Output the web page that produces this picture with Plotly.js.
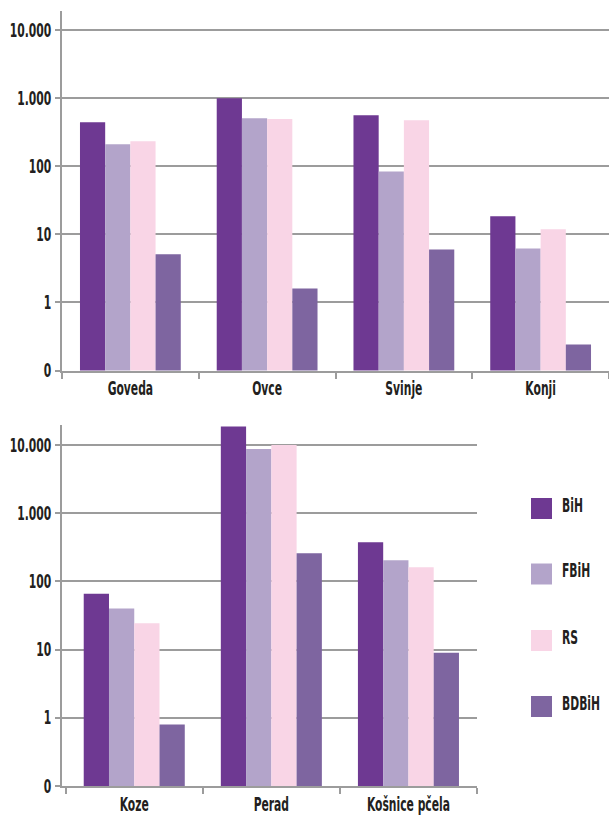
<!DOCTYPE html>
<html>
<head>
<meta charset="utf-8">
<script src="https://cdn.plot.ly/plotly-3.0.1.min.js"></script>
<style>
  html, body { margin: 0; padding: 0; background: #fff; }
  #chart { width: 609px; height: 816px; }
</style>
</head>
<body>
<div id="chart"></div>
<script>
// ---- Data ----
const categoriesTop = ['Goveda', 'Ovce', 'Svinje', 'Konji'];
const categoriesBottom = ['Koze', 'Perad', 'Košnice pčela'];
const seriesNames = ['BiH', 'FBiH', 'RS', 'BDBiH'];

const bihTop   = [444, 1000, 562, 18.4];
const fbihTop  = [211, 508, 84, 6.2];
const rsTop    = [233, 492, 475, 11.9];
const bdbihTop = [5.1, 1.6, 6.0, 0.24];

const bihBottom   = [66, 18600, 375];
const fbihBottom  = [40, 8730, 204];
const rsBottom    = [24.4, 10000, 161];
const bdbihBottom = [0.8, 258, 9.0];

const tickVals = [0.1, 1, 10, 100, 1000, 10000];
const tickText = ['0', '1', '10', '100', '1.000', '10.000'];

// ---- Styling ----
const colors = ['#6e3992', '#b3a4ca', '#f9d5e6', '#7e65a0'];
const FONT = 'DejaVu Sans Condensed, DejaVu Sans, sans-serif';
const FSIZE = 19;
const FWEIGHT = 'bold';
const SQUEEZE = 0.63;   // horizontal condensing of all texts
const TXT = '#231f20';
const GRID = '#9c9c9c';

const topSeries = [bihTop, fbihTop, rsTop, bdbihTop];
const bottomSeries = [bihBottom, fbihBottom, rsBottom, bdbihBottom];

const traces = [];
topSeries.forEach((vals, i) => {
  traces.push({
    type: 'bar', x: categoriesTop, y: vals, name: seriesNames[i],
    marker: { color: colors[i], line: { width: 0 } },
    xaxis: 'x', yaxis: 'y', showlegend: false
  });
});
bottomSeries.forEach((vals, i) => {
  traces.push({
    type: 'bar', x: categoriesBottom, y: vals, name: seriesNames[i],
    marker: { color: colors[i], line: { width: 0 } },
    xaxis: 'x2', yaxis: 'y2', showlegend: false
  });
});

const tickFont = { family: FONT, size: FSIZE, color: TXT, weight: FWEIGHT };

function yAxis(domain, top, anchor) {
  return {
    type: 'log', domain: domain, range: [-1, top], anchor: anchor,
    tickvals: tickVals, ticktext: tickText,
    showgrid: true, gridcolor: GRID, gridwidth: 2,
    showline: true, linecolor: GRID, linewidth: 2,
    ticks: 'outside', ticklen: 5, tickcolor: GRID, tickwidth: 2,
    tickfont: tickFont,
    zeroline: false, fixedrange: true
  };
}
function xAxis(domain, range, anchor) {
  return {
    type: 'category', domain: domain, range: range, anchor: anchor,
    showgrid: false, showline: true, linecolor: GRID, linewidth: 2,
    ticks: 'outside', tickson: 'boundaries', ticklen: 6, tickcolor: GRID, tickwidth: 2,
    tickangle: 0,
    tickfont: tickFont,
    zeroline: false, fixedrange: true
  };
}

// Legend built from the series names and colours
const legendYs = [508.5, 574, 640.5, 706.5]; // px centres of squares
const shapes = [];
const annotations = [];
seriesNames.forEach((name, i) => {
  const cy = legendYs[i];
  shapes.push({
    type: 'rect', xref: 'paper', yref: 'paper',
    x0: 531 / 609, x1: 552 / 609,
    y0: (816 - (cy + 10.5)) / 816, y1: (816 - (cy - 10.5)) / 816,
    fillcolor: colors[i], line: { width: 0 }
  });
  annotations.push({
    xref: 'paper', yref: 'paper', x: 560 / 609, y: (816 - (cy - 4)) / 816,
    xanchor: 'left', yanchor: 'middle', showarrow: false,
    text: name, font: tickFont
  });
});

const layout = {
  width: 609, height: 816,
  margin: { l: 0, r: 0, t: 0, b: 0 },
  paper_bgcolor: '#ffffff', plot_bgcolor: '#ffffff',
  barmode: 'group', bargap: 0.263, bargroupgap: 0,
  showlegend: false,
  xaxis: xAxis([62 / 609, 1], [-0.5, 3.5], 'y'),
  yaxis: yAxis([(816 - 370.5) / 816, (816 - 11) / 816], 4.28, 'x'),
  xaxis2: xAxis([62 / 609, 477 / 609], [-0.527, 2.5], 'y2'),
  yaxis2: yAxis([(816 - 786) / 816, (816 - 425) / 816], 4.293, 'x2'),
  shapes: shapes,
  annotations: annotations
};

function condense(el, mode) {
  const bb = el.getBBox();
  let cx;
  if (mode === 'left') cx = bb.x;
  else {
    const a = el.getAttribute('text-anchor') || (el.style && el.style.textAnchor) || 'start';
    cx = a === 'end' ? bb.x + bb.width : (a === 'middle' ? bb.x + bb.width / 2 : bb.x);
  }
  const prev = el.getAttribute('transform') || '';
  el.setAttribute('transform',
    prev + ' translate(' + cx + ',0) scale(' + SQUEEZE + ',1) translate(' + (-cx) + ',0)');
}

Plotly.newPlot('chart', traces, layout, { displayModeBar: false, staticPlot: true })
  .then(gd => {
    gd.querySelectorAll('.xtick text, .ytick text, .x2tick text, .y2tick text')
      .forEach(t => condense(t, 'anchor'));
    gd.querySelectorAll('.annotation-text').forEach(t => condense(t, 'left'));
  });
</script>
</body>
</html>
